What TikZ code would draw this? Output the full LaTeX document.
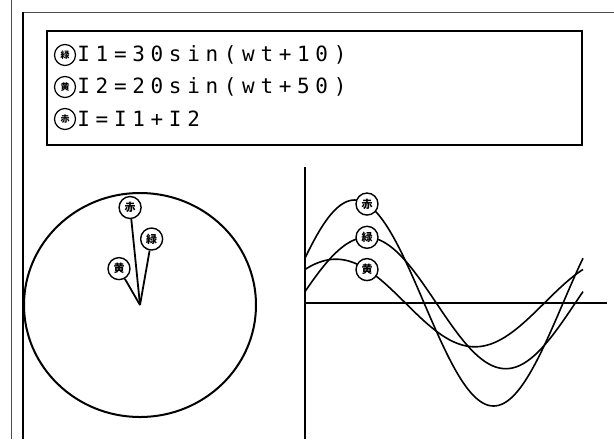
\documentclass[tikz,border=0pt]{standalone}
\usepackage{fontspec}
\newfontfamily\jp{Noto Sans CJK JP}
\newfontfamily\dotfont[LetterSpace=27]{DejaVu Sans Mono}

\begin{document}
\begin{tikzpicture}[
        x=0.5pt, y=-0.5pt,
        frame/.style={line width=1pt},
        hair/.style={line width=0.5pt, black!70},
        axis/.style={line width=1pt},
        curve/.style={line width=0.8pt},
        vec/.style={line width=0.9pt},
        tag/.style={circle, draw, line width=0.7pt, fill=white, minimum size=11pt, inner sep=0pt, font=\jp\bfseries\fontsize{5.5}{5.5}\selectfont},
        mk/.style={circle, draw, line width=0.6pt, fill=white, minimum size=10.5pt, inner sep=0pt, font=\jp\bfseries\fontsize{4.5}{4.5}\selectfont},
        formula/.style={anchor=west, inner sep=0pt, font=\dotfont\fontsize{10.5}{10.5}\selectfont},
    ]
        \useasboundingbox (0,0) rectangle (614,439);

        % --- Outer frame ---
        \draw[hair] (11,0) -- (11,439);
        \draw[hair] (23,12) -- (614,12);
        \draw[frame] (23,12) -- (23,439);

        % --- Formula box ---
        \draw[frame] (47,31) rectangle (582,145);
        \node[mk] (mkG) at (65,55) {緑};
        \node[formula] (fG) at (77,55) {I1=30sin(wt+10)};
        \node[mk] (mkY) at (65,87) {黄};
        \node[formula] (fY) at (77,87) {I2=20sin(wt+50)};
        \node[mk] (mkR) at (65,119) {赤};
        \node[formula] (fR) at (77,119) {I=I1+I2};

        % --- Phasor diagram ---
        \coordinate (ctr) at (140,305);
        \draw[frame] (ctr) ellipse [x radius=116, y radius=112];
        \node[tag] (pR) at ({140+98*cos(95.8)},{305-98*sin(95.8)}) {赤};
        \node[tag] (pG) at ({140+67*cos(80)},{305-67*sin(80)}) {緑};
        \node[tag] (pY) at ({140+42*cos(120)},{305-42*sin(120)}) {黄};
        \draw[vec] (ctr) -- (pR);
        \draw[vec] (ctr) -- (pG);
        \draw[vec] (ctr) -- (pY);

        % --- Waveforms ---
        \draw[axis] (305,167) -- (305,439);
        \draw[axis] (305,303) -- (607,303);
        \draw[curve] plot[domain=0:360, samples=120] ({305+\x/360*278}, {303-103*sin(\x+25.8)});
        \draw[curve] plot[domain=0:360, samples=120] ({305+\x/360*278}, {303-65.7*sin(\x+10)});
        \draw[curve] plot[domain=0:360, samples=120] ({305+\x/360*278}, {303-43.8*sin(\x+50)});
        \node[tag] (wR) at (367,{303-103*sin(80.3+25.8)}) {赤};
        \node[tag] (wG) at (367,{303-65.7*sin(80.3+10)}) {緑};
        \node[tag] (wY) at (367,{303-43.8*sin(80.3+50)}) {黄};

    \end{tikzpicture}
\end{document}
